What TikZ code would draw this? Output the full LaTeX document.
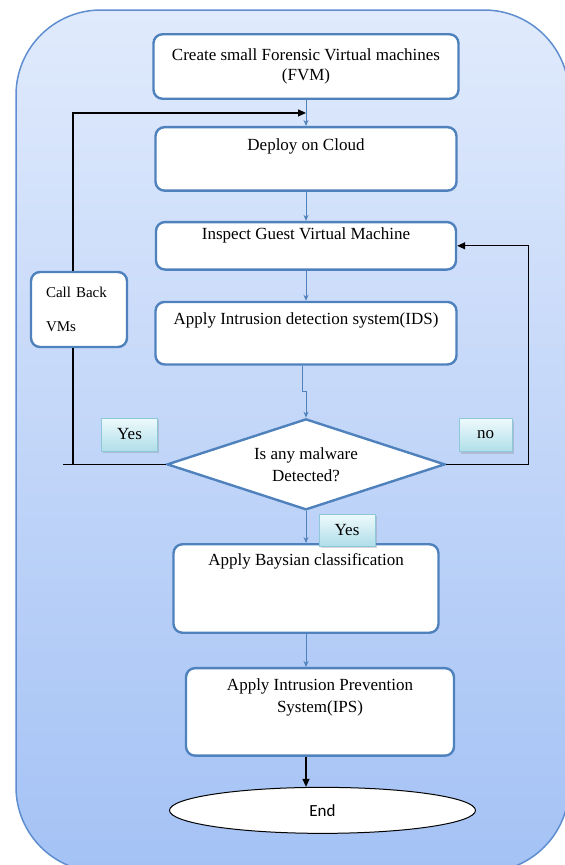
\documentclass[tikz,border=0pt]{standalone}
\usepackage{fontspec}
\setmainfont{Liberation Serif}
\newfontfamily\endfont{Carlito}
\usetikzlibrary{arrows.meta,positioning,calc,shapes.geometric,shadows}
\definecolor{boxblue}{RGB}{79,129,189}
\definecolor{panetop}{RGB}{224,234,252}
\definecolor{panebot}{RGB}{164,194,245}
\definecolor{paneline}{RGB}{95,142,208}
\definecolor{tagtop}{RGB}{238,250,252}
\definecolor{tagbot}{RGB}{176,222,233}
\definecolor{tagline}{RGB}{140,200,216}

\begin{document}
\begin{tikzpicture}[x=1pt, y=-1pt, node distance=26pt, >=Stealth,
    font=\fontsize{17}{22}\selectfont,
    stepbox/.style={draw=boxblue, line width=2.4pt, rounded corners=9pt, fill=white,
      align=center, inner sep=2pt},
    decision/.style={diamond, draw=boxblue, line width=2.4pt, fill=white, align=center,
      aspect=3, inner sep=0pt, minimum width=278pt, minimum height=91pt},
    tag/.style={draw=tagline, line width=1pt, top color=tagtop, bottom color=tagbot,
      minimum width=56pt, minimum height=33pt,
      drop shadow={shadow xshift=1.5pt, shadow yshift=-2pt, opacity=0.3}},
    flow/.style={draw=boxblue, line width=1pt, -{Stealth[length=6pt,width=5pt]}},
    back/.style={line width=1.2pt, -{Triangle[length=8pt,width=7pt]}},
    line/.style={line width=1.2pt}]
\useasboundingbox (0,0) rectangle (565,865);
% background pane
\path[draw=paneline, line width=1.5pt, top color=panetop, bottom color=panebot,
  rounded corners=85pt] (16,10) rectangle (569,872);

% main column
\node[stepbox, minimum width=305pt, minimum height=64.5pt] (fvm) at (306,66.5)
  {Create small Forensic Virtual machines\\[-2pt](FVM)};
\node[stepbox, minimum width=301pt, minimum height=63.5pt, below=26pt of fvm] (cloud)
  {Deploy on Cloud\\\strut};
\node[stepbox, minimum width=300pt, minimum height=47.5pt, below=29pt of cloud] (inspect)
  {Inspect Guest Virtual Machine\\[-4pt]\strut};
\node[stepbox, minimum width=301pt, minimum height=62.5pt, below=30pt of inspect] (ids)
  {Apply Intrusion detection system(IDS)\\\strut};
\node[decision, below=52pt of ids] (dec) {Is any malware\\Detected?};
\node[stepbox, minimum width=265pt, minimum height=88.5pt, below=32pt of dec] (bays)
  {Apply Baysian classification\\[8pt]\strut\\\strut};
\node[stepbox, minimum width=268pt, minimum height=87.5pt, below=33pt of bays, xshift=14pt] (ips)
  {Apply Intrusion Prevention\\System(IPS)\\[5pt]\strut};
\node[ellipse, draw, line width=1pt, fill=white, minimum width=306pt, minimum height=46pt,
  below=30pt of ips, xshift=2.5pt, font=\endfont\fontsize{17}{22}\selectfont] (end) {End};

% side box and labels
\node[stepbox, align=left, text width=66pt, minimum width=96pt, minimum height=75pt,
  font=\fontsize{15}{17}\selectfont] (callback) at (79,309.5) {Call Back\\[17pt]VMs};
\node[tag] (yesleft) at (129.5,434.5) {Yes};
\node[tag, minimum width=53pt] (no) at (485.5,435) {no};
\node[tag, minimum height=32pt] (yesdown) at (347,530) {Yes};

% connectors
\coordinate (join) at ($(fvm.south)!0.5!(cloud.north)$);
\draw[flow] (fvm) -- (cloud);
\draw[back] ([xshift=-6pt]callback.north) |- (join);
\draw[flow] (cloud) -- (inspect);
\draw[flow] (inspect) -- (ids);
\draw[flow] ([xshift=-4pt]ids.south) -- ++(0,26) -| (dec.north);
\draw[line] (dec.west) -- ++(-103,0);
\draw[line] ([xshift=-6pt]callback.south) -- ([xshift=-6pt]callback.south |- dec.west);
\draw[back] (dec.east) -- ++(82,0) |- (inspect.east);
\draw[flow] (dec) -- (bays);
\draw[flow] (bays.south) -- (bays.south |- ips.north);
\draw[back] (bays.south |- ips.south) -- (bays.south |- end.north);
\end{tikzpicture}
\end{document}
